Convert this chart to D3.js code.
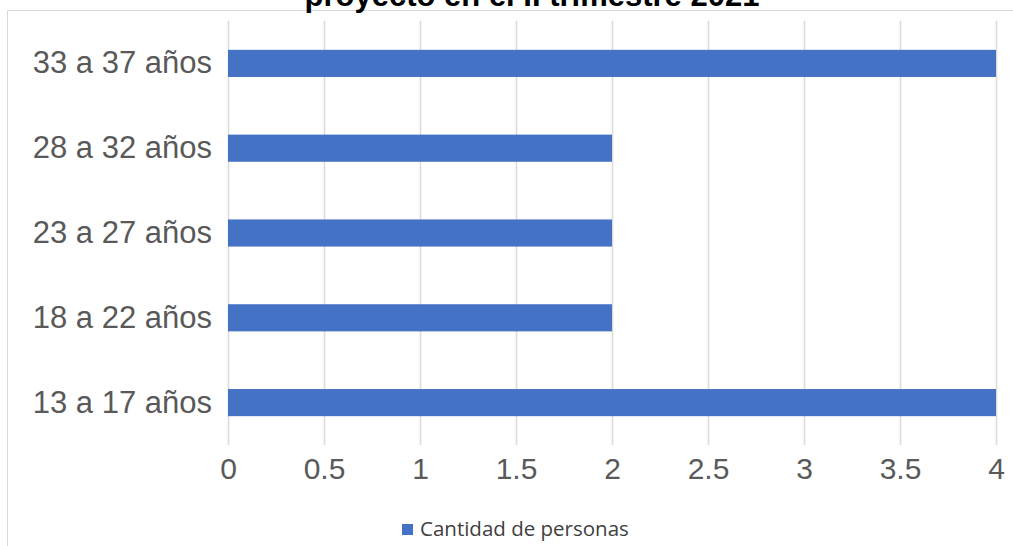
<!DOCTYPE html>
<html><head><meta charset="utf-8">
<script src="https://cdn.jsdelivr.net/npm/d3@7"></script>
<style>html,body{margin:0;padding:0;background:#fff;overflow:hidden}</style>
</head><body>
<svg id="c" width="1013" height="546"></svg>
<script>
const categories = ["13 a 17 años","18 a 22 años","23 a 27 años","28 a 32 años","33 a 37 años"];
const values = [4, 2, 2, 2, 4];
const tickValues = [0, 0.5, 1, 1.5, 2, 2.5, 3, 3.5, 4];
const seriesName = "Cantidad de personas";
const titleText = "proyecto en el II trimestre 2021";

const svg = d3.select("#c");
svg.append("rect").attr("x",7.5).attr("y",10.5).attr("width",1013).attr("height",560)
  .attr("fill","#fff").attr("stroke","#d9d9d9").attr("stroke-width",1);

svg.append("text").attr("x",532).attr("y",6).attr("text-anchor","middle")
  .attr("font-family","Liberation Sans, Arial, sans-serif").attr("font-weight","bold")
  .attr("font-size",31).attr("fill","#000").text(titleText);

const x = d3.scaleLinear().domain([0,4]).range([228,996]);
const y = d3.scaleBand().domain(categories.slice().reverse()).range([21,445]).paddingInner(0.68).paddingOuter(0.34);

const g = svg.append("g");
g.selectAll("line.grid").data(tickValues).enter().append("line")
  .attr("x1",d=>Math.round(x(d))+0.5).attr("x2",d=>Math.round(x(d))+0.5)
  .attr("y1",21).attr("y2",445).attr("stroke","#d9d9d9").attr("stroke-width",1.5);

g.selectAll("rect.bar").data(categories).enter().append("rect")
  .attr("x",x(0)).attr("y",(d)=>y(d)).attr("height",y.bandwidth())
  .attr("width",(d,i)=>x(values[i])-x(0)).attr("fill","#4472c4");

const xa = svg.append("g").attr("transform","translate(0,445)")
  .call(d3.axisBottom(x).tickValues(tickValues).tickSize(0).tickPadding(13).tickFormat(d3.format("")));
xa.select(".domain").remove();
xa.selectAll("text").attr("font-family","Liberation Sans, Arial, sans-serif").attr("font-size",30).attr("fill","#595959");

const ya = svg.append("g").attr("transform","translate(228,0)")
  .call(d3.axisLeft(y).tickSize(0).tickPadding(16));
ya.select(".domain").remove();
ya.selectAll("text").attr("font-family","Liberation Sans, Arial, sans-serif").attr("font-size",31).attr("fill","#595959");

const lg = svg.append("g");
lg.append("rect").attr("x",402).attr("y",524).attr("width",11).attr("height",11).attr("fill","#4472c4");
lg.append("text").attr("x",420).attr("y",536).attr("font-family","Open Sans, sans-serif")
  .attr("font-size",20.5).attr("fill","#404040").text(seriesName);
</script>
</body></html>
